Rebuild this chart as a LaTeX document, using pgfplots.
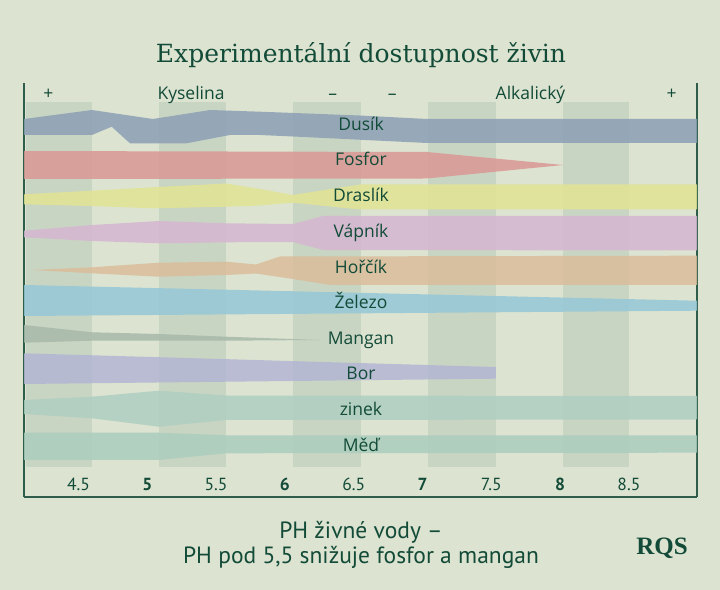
\documentclass[border=0pt]{standalone}
\usepackage{pgfplots}
\pgfplotsset{compat=1.18}
\usetikzlibrary{backgrounds,calc}
\usepackage{fontspec}
\newfontfamily\labelfont{Open Sans}
\newfontfamily\tickfont{PT Sans}
\newfontfamily\titlefont{DejaVu Serif}
\newfontfamily\logofont{Liberation Serif}
\definecolor{bg}{RGB}{220,227,208}
\definecolor{stripe}{RGB}{201,213,195}
\definecolor{txt}{RGB}{18,75,56}
\definecolor{axisc}{RGB}{46,94,74}
\definecolor{cN}{RGB}{140,160,182}
\definecolor{cP}{RGB}{218,151,148}
\definecolor{cK}{RGB}{225,228,146}
\definecolor{cCa}{RGB}{213,182,210}
\definecolor{cMg}{RGB}{218,189,155}
\definecolor{cFe}{RGB}{149,199,216}
\definecolor{cMn}{RGB}{167,184,170}
\definecolor{cB}{RGB}{179,182,212}
\definecolor{cZn}{RGB}{174,207,193}
\definecolor{cCu}{RGB}{171,205,190}
\begin{document}
\begin{tikzpicture}
\begin{axis}[
  scale only axis,
  width=673bp, height=414bp,
  xmin=4.104, xmax=8.995, ymin=93, ymax=507,
  axis x line*=bottom, axis y line*=box,
  axis line style={color=axisc, line width=1.2bp},
  xtick={4.5,5,5.5,6,6.5,7,7.5,8,8.5},
  xticklabels={4.5,{\bfseries 5},5.5,{\bfseries 6},6.5,{\bfseries 7},7.5,{\bfseries 8},8.5},
  ytick=\empty,
  major tick length=0pt,
  xticklabel style={anchor=base, yshift=7bp, text=txt, font=\tickfont\fontsize{17.5bp}{20bp}\selectfont},
  every node/.append style={text=txt},
]
\coordinate (O) at (rel axis cs:0,0);
% vertical stripes
\addplot[fill=stripe, draw=none] coordinates {(4.118,123) (4.598,123) (4.598,488) (4.118,488)} -- cycle;
\addplot[fill=stripe, draw=none] coordinates {(5.085,123) (5.572,123) (5.572,488) (5.085,488)} -- cycle;
\addplot[fill=stripe, draw=none] coordinates {(6.059,123) (6.553,123) (6.553,488) (6.059,488)} -- cycle;
\addplot[fill=stripe, draw=none] coordinates {(7.040,123) (7.534,123) (7.534,488) (7.040,488)} -- cycle;
\addplot[fill=stripe, draw=none] coordinates {(8.021,123) (8.500,123) (8.500,488) (8.021,488)} -- cycle;
% Dusik
\addplot[fill=cN, draw=none, fill opacity=0.85] coordinates {
 (4.104,471) (4.598,480) (5.041,471) (5.456,480) (5.819,478.3) (6.546,474.5) (7.033,471) (8.995,471)
 (8.995,447) (7.033,447) (6.059,453.5) (5.819,455) (5.601,455) (5.286,446.7) (4.874,446.7) (4.741,463.3) (4.598,455) (4.104,455)} -- cycle;
% Fosfor
\addplot[fill=cP, draw=none, fill opacity=0.85] coordinates {
 (4.104,439) (7.033,438) (8.021,425) (7.033,411.5) (4.104,411)} -- cycle;
% Draslik
\addplot[fill=cK, draw=none, fill opacity=0.85] coordinates {
 (4.104,395.7) (4.598,399.3) (5.041,402.7) (5.572,406.5) (5.819,401) (6.059,395) (6.546,405.5) (8.995,405.5)
 (8.995,380.5) (6.546,380.5) (6.059,387.3) (5.819,384.5) (5.572,383.3) (5.041,381.7) (4.598,384) (4.104,385.7)} -- cycle;
% Vapnik
\addplot[fill=cCa, draw=none, fill opacity=0.85] coordinates {
 (4.104,359.3) (4.598,365) (5.085,369) (5.572,366.7) (6.059,366) (6.277,374) (8.995,374)
 (8.995,339.5) (6.277,340) (6.059,348) (5.572,347.7) (5.085,346.7) (4.598,349) (4.104,352.7)} -- cycle;
% Horcik
\addplot[fill=cMg, draw=none, fill opacity=0.85] coordinates {
 (4.160,320) (4.598,322.7) (5.085,327.3) (5.572,328.3) (5.790,325.5) (5.964,333.5) (8.995,334.3)
 (8.995,305) (6.328,305) (6.059,311) (5.790,316.5) (5.572,315) (5.085,313.3) (4.598,316.7)} -- cycle;
% Zelezo
\addplot[fill=cFe, draw=none, fill opacity=0.85] coordinates {
 (4.104,305) (8.995,289.3) (8.995,279.3) (4.104,274)} -- cycle;
% Mangan
\addplot[fill=cMn, draw=none, fill opacity=0.85] coordinates {
 (4.104,265) (4.598,257.7) (5.085,256) (5.572,253.3) (6.255,250) (5.572,249.3) (4.598,249.3) (4.104,247.3)} -- cycle;
% Bor
\addplot[fill=cB, draw=none, fill opacity=0.85] coordinates {
 (4.104,236.7) (7.534,223) (7.534,211.3) (4.104,206)} -- cycle;
% zinek
\addplot[fill=cZn, draw=none, fill opacity=0.85] coordinates {
 (4.104,190) (4.598,193.3) (5.085,199.3) (5.572,194.5) (8.995,194)
 (8.995,170.5) (5.572,170) (5.085,163.3) (4.598,171.7) (4.104,176)} -- cycle;
% Med
\addplot[fill=cCu, draw=none, fill opacity=0.85] coordinates {
 (4.104,157.3) (5.085,157.3) (5.572,154.7) (8.995,154.5)
 (8.995,137.3) (5.572,136.7) (5.085,130) (4.104,130)} -- cycle;
% header
\begin{scope}[every node/.style={anchor=base, text=txt, font=\labelfont\fontsize{17.5bp}{20bp}\selectfont}]
\node at (axis cs:4.281,490) {+};
\node at (axis cs:5.318,490) {Kyselina};
\node at (axis cs:6.347,490) {–};
\node at (axis cs:6.780,490) {–};
\node at (axis cs:7.785,490) {Alkalický};
\node at (axis cs:8.811,490) {+};
% nutrient labels
\node at (axis cs:6.553,459.3) {Dusík};
\node at (axis cs:6.553,424) {Fosfor};
\node at (axis cs:6.553,388.3) {Draslík};
\node at (axis cs:6.553,352.3) {Vápník};
\node at (axis cs:6.553,316.7) {Hořčík};
\node at (axis cs:6.553,281) {Železo};
\node at (axis cs:6.553,245) {Mangan};
\node at (axis cs:6.553,210) {Bor};
\node at (axis cs:6.553,174) {zinek};
\node at (axis cs:6.553,138.3) {Měď};
\end{scope}
\end{axis}
\begin{scope}[on background layer]
\fill[bg] ($(O)+(-24bp,-93bp)$) rectangle ($(O)+(696bp,497bp)$);
\end{scope}
\node[anchor=base, text=txt, font=\titlefont\fontsize{25bp}{30bp}\selectfont] at ($(O)+(337bp,434.3bp)$) {Experimentální dostupnost živin};
\node[anchor=base, text=txt, font=\tickfont\fontsize{23.5bp}{26bp}\selectfont] at ($(O)+(337bp,-41bp)$) {PH živné vody –};
\node[anchor=base, text=txt, font=\tickfont\fontsize{23.5bp}{26bp}\selectfont] at ($(O)+(337bp,-66.5bp)$) {PH pod 5,5 snižuje fosfor a mangan};
\node[anchor=base, text=txt, font=\logofont\bfseries\fontsize{25bp}{28bp}\selectfont] at ($(O)+(638bp,-57bp)$) {RQS};
\pgfresetboundingbox
\path[use as bounding box] ($(O)+(-24bp,-93bp)$) rectangle ($(O)+(696bp,497bp)$);
\end{tikzpicture}
\end{document}
